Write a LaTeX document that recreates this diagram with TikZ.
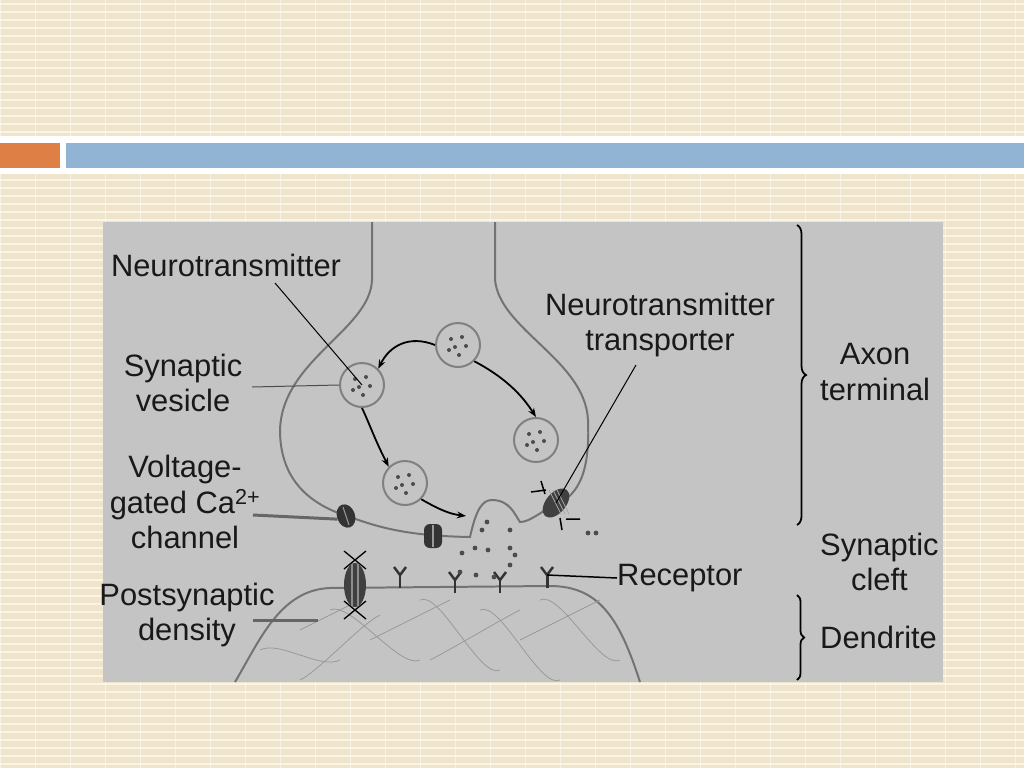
\documentclass[tikz,border=0pt]{standalone}
\usepackage{fontspec}
\setmainfont{Liberation Sans}
\usetikzlibrary{decorations.pathreplacing,arrows.meta,shapes.geometric,calc}
\definecolor{bgc}{RGB}{240,229,203}
\definecolor{orc}{RGB}{222,128,70}
\definecolor{blc}{RGB}{146,180,212}
\definecolor{pnl}{RGB}{196,196,196}
\begin{document}
\begin{tikzpicture}[x=1bp,y=-1bp,
  lbl/.style={font=\fontsize{31}{36}\selectfont,align=center,text=black!90,inner sep=0pt},
  memb/.style={draw=black!55,line width=2pt},
  ves/.style={circle,draw=black!50,line width=2pt,minimum size=44bp,inner sep=0pt},
  cyc/.style={-{Stealth[length=9bp]},line width=1.8pt},
  ptr/.style={line width=1pt},
  fib/.style={draw=black!40,line width=0.8pt}]
\useasboundingbox (0,0) rectangle (1024,768);
\fill[bgc] (0,0) rectangle (1024,768);
\foreach \y in {4,12,...,768} \draw[white,line width=1.5pt,opacity=.6] (0,\y)--(1024,\y);
\foreach \x in {0,35,...,1024} \draw[white,line width=1pt,opacity=.5] (\x,0)--(\x,768);
\fill[white] (0,136) rectangle (1024,174);
\fill[orc] (0,143) rectangle (60,168);
\fill[blc] (66,143) rectangle (1024,168);
\fill[pnl] (103,222) rectangle (943,682);
% axon
\draw[memb] (372,222) -- (372,280) .. controls (370,330) and (282,360) .. (280,430)
  .. controls (280,480) and (310,505) .. (350,517) .. controls (380,528) and (410,536) .. (470,537)
  .. controls (476,510) and (482,500) .. (492,500) .. controls (510,500) and (515,515) .. (520,522)
  .. controls (530,522) and (540,512) .. (555,505) .. controls (580,495) and (590,470) .. (588,420)
  .. controls (585,360) and (500,330) .. (495,280) -- (495,222);
% dendrite
\draw[memb] (235,682) .. controls (260,640) and (280,590) .. (330,588) -- (550,586)
  .. controls (600,586) and (620,620) .. (640,682);
\foreach \a/\b/\c/\d in {300/680/380/615, 330/610/420/660, 370/640/450/600, 420/600/500/670, 430/660/520/610, 480/610/560/680, 520/640/600/600, 540/600/620/660, 300/630/360/600, 260/650/340/660}
  \draw[fib] (\a,\b) .. controls (\a+20,\b-10) and (\c-20,\d+10) .. (\c,\d);
% vesicles
\foreach \n/\x/\y in {v1/362/385,v2/458/345,v3/536/440,v4/405/483}{
  \node[ves] (\n) at (\x,\y) {};
  \foreach \dx/\dy in {-7/-6,4/-8,-3/2,8/1,1/10,-9/5}
    \fill[black!70] (\x+\dx,\y+\dy) circle (2bp);}
\draw[cyc] (v2.west) .. controls (410,335) and (390,345) .. (v1.north east);
\draw[cyc] (v2.south east) .. controls (510,380) and (525,400) .. (v3.north);
\draw[cyc] (v1.south) .. controls (370,425) and (375,440) .. (v4.north west);
\draw[cyc] (v4.south east) .. controls (440,510) and (450,514) .. (466,516);
% channels
\node[ellipse,fill=black!80,minimum width=18bp,minimum height=24bp,inner sep=0pt,rotate=20] (ch1) at (346,516) {};
\draw[black!40,line width=1pt] (343,507)--(349,525);
\node[fill=black!80,rounded corners=6pt,minimum width=18bp,minimum height=24bp,inner sep=0pt] (ch2) at (433,536) {};
\draw[black!40,line width=1.2pt] (433,525)--(433,547);
\node[ellipse,fill=black!75,minimum width=20bp,minimum height=34bp,inner sep=0pt,rotate=-40] (tr) at (556,503) {};
\foreach \k in {-4,0,4} \draw[black!35,line width=0.8pt] ($(tr)+(\k-3,-13)$) -- ($(tr)+(\k+9,11)$);
\draw[line width=1.5pt] (531,492)--(546,490) (541,481)--(545,494) (560,518)--(562,530) (566,519)--(580,519);
\node[ellipse,fill=black!75,minimum width=22bp,minimum height=44bp,inner sep=0pt] (pch) at (355,585) {};
\draw[black!45,line width=1.2pt] (352,564)--(352,606) (358,564)--(358,606);
\draw[line width=1.3pt] (344,551)--(366,569) (366,551)--(344,569) (344,601)--(366,619) (366,601)--(344,619);
% receptors
\foreach \n/\x/\y in {r1/400/588,r2/455/593,r3/500/593,r4/547/588}{
  \draw[black!80,line width=3pt] (\x,\y) -- (\x,\y-13);
  \draw[black!80,line width=2.5pt] (\x-6,\y-21) -- (\x,\y-13) -- (\x+6,\y-21);
  \coordinate (\n) at (\x,\y-13);}
\foreach \x/\y in {487/522, 510/530, 462/553, 475/548, 488/550, 510/548, 460/572, 476/575, 494/577, 510/565, 515/555, 482/530, 588/533, 596/533}
  \fill[black!70] (\x,\y) circle (2.4bp);
% labels
\node[lbl] (lnt) at (226,265) {Neurotransmitter};
\node[lbl] (lsv) at (183,383) {Synaptic\\vesicle};
\node[lbl] (lvg) at (185,502) {Voltage-\\gated Ca\textsuperscript{2+}\\channel};
\node[lbl] (lpd) at (187,615) {Postsynaptic\\density};
\node[lbl] (lnt2) at (660,325) {Neurotransmitter\\transporter};
\node[lbl,anchor=west] (lrc) at (617,578) {Receptor};
\node[lbl,anchor=west] (lax) at (820,372) {Axon\\terminal};
\node[lbl,anchor=west] (lsc) at (820,562) {Synaptic\\cleft};
\node[lbl,anchor=west] (lde) at (820,637) {Dendrite};
\draw[ptr] (275,283) -- (v1.center);
\draw[ptr,black!70] (252,387) -- (v1.west);
\draw[line width=3pt,black!60] (253,515) -- (ch1.west);
\draw[line width=3pt,black!60] (253,620) -- (318,620);
\draw[ptr] (636,365) -- (tr.center);
\draw[line width=1.5pt] (lrc.west) -- (r4);
\draw[decorate,decoration={brace,amplitude=9bp},line width=1.8pt] (797,225) -- (797,525);
\draw[decorate,decoration={brace,amplitude=7bp},line width=1.8pt] (797,595) -- (797,680);
\end{tikzpicture}
\end{document}
